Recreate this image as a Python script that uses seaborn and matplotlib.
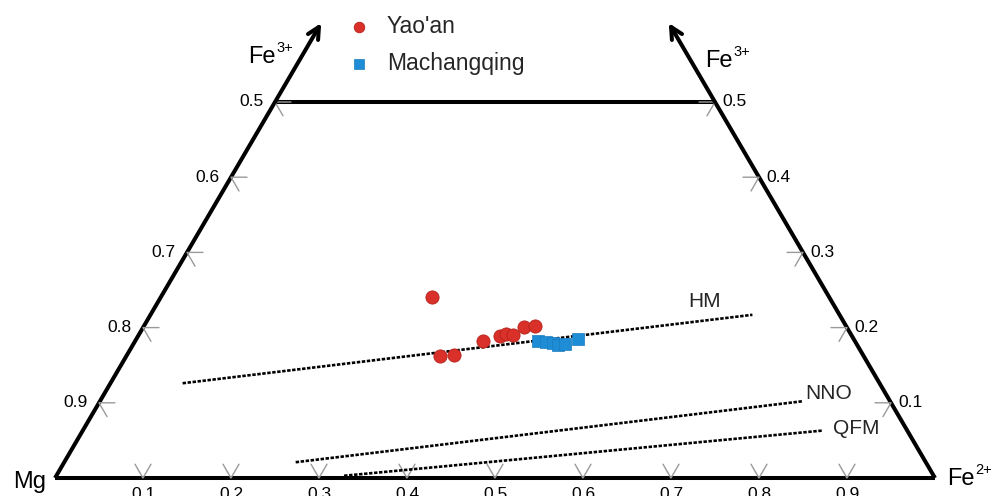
import matplotlib
matplotlib.use("Agg")
import numpy as np
import pandas as pd
import matplotlib.pyplot as plt
import seaborn as sns

# ---------------- data (molar fractions) ----------------
yaoan_fe2 = [0.308, 0.356, 0.371, 0.395, 0.411, 0.417, 0.425, 0.433, 0.444]
yaoan_fe3 = [0.241, 0.162, 0.164, 0.182, 0.189, 0.191, 0.190, 0.201, 0.202]
mach_fe2 = [0.458, 0.468, 0.476, 0.483, 0.491, 0.502]
mach_fe3 = [0.182, 0.181, 0.180, 0.177, 0.178, 0.185]

buffer_names = ["HM", "NNO", "QFM"]
buffer_fe2_start = [0.082, 0.263, 0.327]
buffer_fe3_start = [0.126, 0.021, 0.003]
buffer_fe2_end = [0.684, 0.798, 0.840]
buffer_fe3_end = [0.217, 0.102, 0.063]

bottom_ticks = [0.1, 0.2, 0.3, 0.4, 0.5, 0.6, 0.7, 0.8, 0.9]   # Fe2+
left_ticks = [0.9, 0.8, 0.7, 0.6, 0.5]                            # Mg
right_ticks = [0.1, 0.2, 0.3, 0.4, 0.5]                           # Fe3+

# ---------------- helpers ----------------
def to_xy(fe2, fe3):
    fe2 = np.asarray(fe2, float)
    fe3 = np.asarray(fe3, float)
    return fe2 + fe3 / 2.0, fe3

W, H = 992, 496
PX0, PY0, SX, SY = 55.0, 478.0, 880.0, 752.0

sns.set_theme(style="white")
plt.rcParams["font.family"] = ["Liberation Sans", "DejaVu Sans"]

fig = plt.figure(figsize=(W / 100, H / 100), dpi=100)
ax = fig.add_axes([0, 0, 1, 1])
ax.set_xlim(-PX0 / SX, (W - PX0) / SX)
ax.set_ylim((PY0 - H) / SY, PY0 / SY)
ax.axis("off")

# ---------------- frame of truncated triangle ----------------
edge_lw = 2.9
top = 0.5
ax.plot([0, 1], [0, 0], color="black", lw=edge_lw, solid_capstyle="butt")
lx, ly = to_xy(0, top)
rx, ry = to_xy(1 - top, top)
ax.plot([0, lx], [0, ly], color="black", lw=edge_lw, solid_capstyle="butt")
ax.plot([1, rx], [0, ry], color="black", lw=edge_lw, solid_capstyle="butt")
ax.plot([lx, rx], [ly, ry], color="black", lw=edge_lw, solid_capstyle="butt")
tip = 0.605
tlx, tly = to_xy(0, tip)
trx, try_ = to_xy(1 - tip, tip)
for (x0, y0, x1, y1) in [(lx, ly, tlx, tly), (rx, ry, trx, try_)]:
    ax.annotate("", xy=(x1, y1), xytext=(x0, y0),
                arrowprops=dict(arrowstyle="->,head_length=0.7,head_width=0.35",
                                lw=edge_lw, color="black", shrinkA=0, shrinkB=0))

# ---------------- ticks ----------------
tk = 16.0
hx = tk / SX
dx = 8.0 / SX
dy = 13.8 / SY
tcol = "#9a9a9a"
lab_kw = dict(fontsize=12.5, color="black", textcoords="offset points")
for t in bottom_ticks:
    x, y = to_xy(t, 0)
    ax.plot([x - dx, x, x + dx], [y + dy, y, y + dy], color=tcol, lw=1.0)
    ax.annotate(f"{t:.1f}", (x, y), xytext=(0, -6.5), ha="center", va="top", **lab_kw)
for m in left_ticks:
    f3 = round(1 - m, 2)
    x, y = to_xy(0, f3)
    ax.plot([x + hx, x, x + dx], [y, y, y - dy], color=tcol, lw=1.0)
    ax.annotate(f"{m:.1f}", (x, y), xytext=(-8, 0), ha="right", va="center", **lab_kw)
for t in right_ticks:
    x, y = to_xy(1 - t, t)
    ax.plot([x - hx, x, x - dx], [y, y, y - dy], color=tcol, lw=1.0)
    ax.annotate(f"{t:.1f}", (x, y), xytext=(5, 0), ha="left", va="center", **lab_kw)

# ---------------- buffer lines ----------------
for name, a2, a3, b2, b3 in zip(buffer_names, buffer_fe2_start, buffer_fe3_start,
                                buffer_fe2_end, buffer_fe3_end):
    xs, ys = to_xy([a2, b2], [a3, b3])
    ax.plot(xs, ys, color="black", lw=1.9, linestyle=(0, (1.3, 0.6)))
    if name == "HM":
        ax.text(xs[1] - 64 / SX, ys[1] + 13 / SY, name, fontsize=15, ha="left", va="center")
    elif name == "NNO":
        ax.text(xs[1] + 3 / SX, ys[1] + 8 / SY, name, fontsize=15, ha="left", va="center")
    else:
        ax.text(xs[1] + 11 / SX, ys[1] + 2 / SY, name, fontsize=15, ha="left", va="center")

# ---------------- data points ----------------
yx, yy = to_xy(yaoan_fe2, yaoan_fe3)
mx, my = to_xy(mach_fe2, mach_fe3)
df_y = pd.DataFrame({"x": yx, "y": yy})
df_m = pd.DataFrame({"x": mx, "y": my})
sns.scatterplot(data=df_y, x="x", y="y", ax=ax, marker="o", s=90, color="#d9302a",
                edgecolor="#b5221c", linewidth=0.6, label="Yao'an", zorder=5)
sns.scatterplot(data=df_m, x="x", y="y", ax=ax, marker="s", s=75, color="#1f8dd6",
                edgecolor="#1a7cc0", linewidth=0.5, label="Machangqing", zorder=5)

leg = ax.legend(loc="upper left", bbox_to_anchor=(348 / W, 1 - 15 / H),
                frameon=False, fontsize=16.5, handlelength=1.0, handletextpad=0.7,
                borderpad=0, borderaxespad=0, labelspacing=0.6, markerscale=0.8)

# ---------------- vertex labels ----------------
def px_to_data(px, py):
    return (px - PX0) / SX, (PY0 - py) / SY

for (px, py, base, sup) in [(248, 63, "Fe", "3+"),
                            (705, 67, "Fe", "3+"),
                            (13, 488, "Mg", None),
                            (947, 485, "Fe", "2+")]:
    x, y = px_to_data(px, py)
    ax.text(x, y, base, fontsize=17, ha="left", va="baseline", color="black")
    if sup:
        sx, sy = px_to_data(px + 28.5, py - 11)
        ax.text(sx, sy, sup, fontsize=10.5, ha="left", va="baseline", color="black")

fig.savefig("out.png", dpi=100)
